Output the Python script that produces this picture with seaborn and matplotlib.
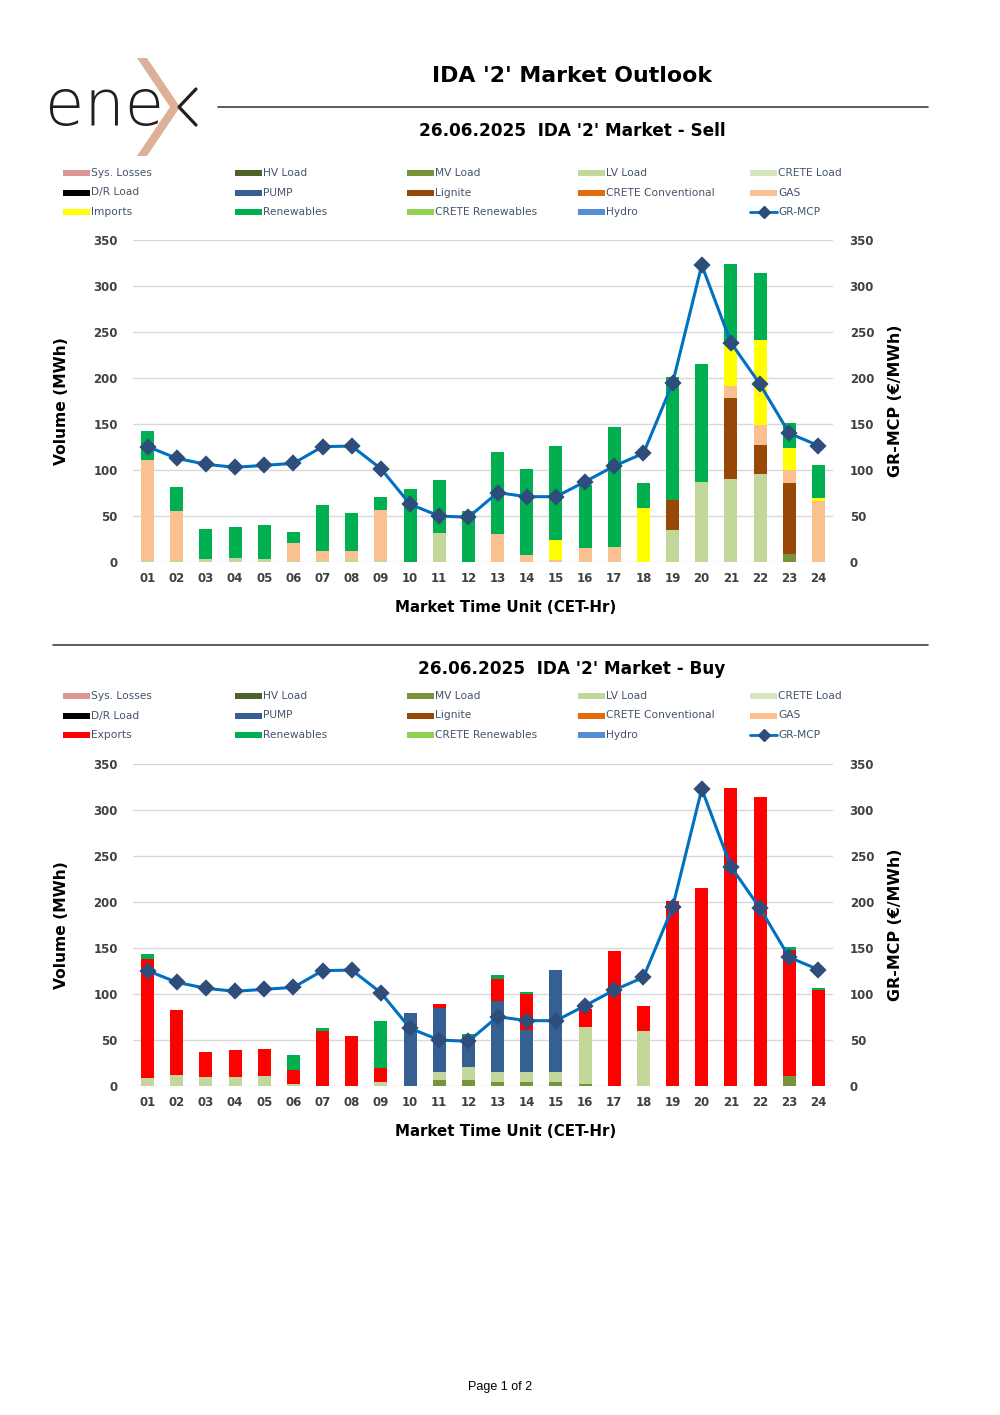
import numpy as np
import matplotlib
matplotlib.use("Agg")
import matplotlib.pyplot as plt
import seaborn as sns
from matplotlib.patches import Rectangle, Polygon
from matplotlib.lines import Line2D

# IDA '2' market outlook, 26.06.2025 - sell and buy side volumes (MWh) per hour
hours = ["01", "02", "03", "04", "05", "06", "07", "08", "09", "10", "11", "12",
         "13", "14", "15", "16", "17", "18", "19", "20", "21", "22", "23", "24"]

# GR-MCP price (EUR/MWh)
price = [125.4, 112.7, 106.2, 102.9, 105.1, 107.2, 125.4, 126.0, 101.4, 62.7, 50.0, 48.6,
         75.4, 71.0, 71.0, 87.3, 104.3, 118.1, 194.2, 322.8, 238.4, 193.1, 139.9, 126.5]

# Sell side
sell_mv = [0, 0, 0, 0, 0, 0, 0, 0, 0, 0, 0, 0,
           0, 0, 0, 0, 0, 0, 0, 0, 0, 0, 8.7, 0]
sell_lv = [2.0, 2.5, 3.3, 4.7, 3.6, 1.0, 1.5, 3.0, 2.2, 0, 31.2, 0,
           0, 0, 0, 0, 0, 0, 34.8, 87.3, 90.6, 95.7, 0, 0]
sell_lignite = [0, 0, 0, 0, 0, 0, 0, 0, 0, 0, 0, 0,
                0, 0, 0, 0, 0, 0, 32.6, 0, 87.7, 31.5, 77.5, 0]
sell_gas = [108.9, 53.3, 0, 0, 0, 19.3, 10.8, 9.0, 54.3, 0, 0, 0,
            30.1, 8.0, 2.2, 14.9, 16.0, 0, 0, 0, 13.4, 21.4, 13.8, 66.7]
sell_imports = [0, 0, 0, 0, 0, 0, 0, 0, 0, 0, 0, 0,
                0, 0, 22.1, 0, 0, 58.3, 0, 0, 46.7, 92.7, 24.3, 3.2]
sell_res = [31.8, 26.1, 32.6, 33.3, 36.3, 11.9, 49.7, 41.6, 13.8, 79.0, 57.8, 55.8,
            89.5, 93.0, 101.4, 68.4, 130.4, 27.9, 133.3, 127.6, 85.9, 72.7, 26.4, 35.5]

# Buy side
buy_mv = [0, 0, 0, 0, 0, 0, 0, 0, 0, 0, 6.9, 6.9,
          4.0, 4.0, 4.0, 2.5, 0, 0, 0, 0, 0, 0, 10.5, 0]
buy_lv = [9.0, 12.0, 9.4, 9.4, 10.5, 2.5, 0, 0, 4.0, 0, 8.7, 13.8,
          11.6, 11.2, 11.0, 62.0, 0, 59.4, 0, 0, 0, 0, 0, 0]
buy_pump = [0, 0, 0, 0, 0, 0, 0, 0, 0, 79.3, 69.5, 34.0,
            76.4, 45.3, 111.0, 0, 0, 0, 0, 0, 0, 0, 0, 0]
buy_exports = [128.7, 70.2, 27.2, 29.4, 29.7, 15.3, 59.8, 54.3, 15.6, 0, 4.4, 0,
               24.0, 39.5, 0, 19.2, 146.7, 27.2, 201.0, 215.2, 324.3, 314.5, 137.3, 104.7]
buy_res = [5.8, 0, 0, 0, 0, 15.5, 2.9, 0, 51.1, 0, 0, 1.5,
           4.3, 1.8, 0, 0, 0, 0, 0, 0, 0, 0, 3.2, 1.5]

colors = {
    "Sys. Losses": "#da9694", "HV Load": "#4f6228", "MV Load": "#77933c",
    "LV Load": "#c4d79b", "CRETE Load": "#d8e4bc", "D/R Load": "#000000",
    "PUMP": "#366092", "Lignite": "#974706", "CRETE Conventional": "#e26b0a",
    "GAS": "#fac090", "Imports": "#ffff00", "Exports": "#ff0000",
    "Renewables": "#00b050", "CRETE Renewables": "#92d050", "Hydro": "#558ed5",
}
LINE_C = "#0070c0"
MARK_C = "#2e4d7b"
TXT = "#404040"
LEG_TXT = "#44546a"
FONT = "DejaVu Sans"

W, H = 1000, 1415
fig = plt.figure(figsize=(W / 100, H / 100), dpi=100)


def fx(x):
    return x / W


def fy(y):
    return 1 - y / H


def stacked(ax, layers):
    # draw cumulative totals from the top down so the layers read as a stack
    cum = np.zeros(len(hours))
    tops = []
    for name, vals in layers:
        cum = cum + np.asarray(vals, dtype=float)
        tops.append((name, cum.copy()))
    for name, top in reversed(tops):
        sns.barplot(x=hours, y=top, color=colors[name], saturation=1,
                    width=0.45, linewidth=0, ax=ax)


def panel(y_top, y_bot, layers):
    ax = fig.add_axes([fx(133), fy(y_bot), fx(833) - fx(133), (y_bot - y_top) / H])
    ax.set_axisbelow(True)
    stacked(ax, layers)
    ax.set_ylim(0, 350)
    ax.set_yticks(range(0, 351, 50))
    ax.set_xlim(-0.5, 23.5)
    ax.yaxis.grid(True, color="#d9d9d9", linewidth=1)
    ax.xaxis.grid(False)
    for s in ax.spines.values():
        s.set_visible(False)
    ax.tick_params(axis="both", length=0, labelsize=8.5, labelcolor=TXT)
    ax.tick_params(axis="y", pad=11)
    ax.tick_params(axis="x", pad=7)
    for lab in ax.get_xticklabels() + ax.get_yticklabels():
        lab.set_fontweight("bold")
    ax.set_xlabel("")
    ax.set_ylabel("")

    ax2 = ax.twinx()
    sns.pointplot(x=hours, y=price, color=LINE_C, markers="D", linestyles="-",
                  errorbar=None, ax=ax2, linewidth=2.2, markersize=7)
    for ln in ax2.lines:
        ln.set_markerfacecolor(MARK_C)
        ln.set_markeredgecolor(MARK_C)
    ax2.set_ylim(0, 350)
    ax2.set_yticks(range(0, 351, 50))
    ax2.set_xlim(-0.5, 23.5)
    ax2.grid(False)
    for s in ax2.spines.values():
        s.set_visible(False)
    ax2.tick_params(axis="y", length=0, labelsize=8.5, labelcolor=TXT, pad=12)
    for lab in ax2.get_yticklabels():
        lab.set_fontweight("bold")
    ax2.set_ylabel("")
    ax2.set_xlabel("")

    yc = (y_top + y_bot) / 2
    fig.text(fx(61), fy(yc), "Volume (MWh)", rotation=90, ha="center", va="center",
             fontsize=11.2, fontweight="bold", color="black", family=FONT)
    fig.text(fx(895), fy(yc), "GR-MCP (€/MWh)", rotation=90, ha="center", va="center",
             fontsize=11.4, fontweight="bold", color="black", family=FONT)
    fig.text(fx(506), fy(y_bot + 45), "Market Time Unit (CET-Hr)", ha="center",
             va="center", fontsize=10.8, fontweight="bold", color="black", family=FONT)
    return ax


def legend(y0, trade):
    names = ["Sys. Losses", "HV Load", "MV Load", "LV Load", "CRETE Load",
             "D/R Load", "PUMP", "Lignite", "CRETE Conventional", "GAS",
             trade, "Renewables", "CRETE Renewables", "Hydro", "GR-MCP"]
    cols = [63, 235, 407, 578, 750]
    for i, name in enumerate(names):
        x = cols[i % 5]
        y = y0 + (i // 5) * 19.5
        if name == "GR-MCP":
            fig.add_artist(Line2D([fx(x), fx(x + 27)], [fy(y), fy(y)], color=LINE_C,
                                  linewidth=2, transform=fig.transFigure))
            fig.add_artist(Line2D([fx(x + 13.5)], [fy(y)], marker="D", markersize=6,
                                  color=MARK_C, transform=fig.transFigure))
        else:
            fig.add_artist(Rectangle((fx(x), fy(y + 3)), fx(27), 6 / H,
                                     facecolor=colors[name], edgecolor="none",
                                     transform=fig.transFigure))
        fig.text(fx(x + 28), fy(y), name, ha="left", va="center", fontsize=7.7,
                 color=LEG_TXT, family=FONT)


sns.set_style("white")
plt.rcParams["font.family"] = FONT

# logo
fig.text(fx(45), fy(125), "ene", ha="left", va="baseline", fontsize=46,
         color="#231f20", family=FONT, fontweight="light")
fig.add_artist(Polygon([(fx(137), fy(58)), (fx(147), fy(58)), (fx(180), fy(107)),
                        (fx(147), fy(156)), (fx(137), fy(156)), (fx(170), fy(107))],
                       closed=True, facecolor="#ddb198", edgecolor="none",
                       transform=fig.transFigure))
fig.add_artist(Line2D([fx(196), fx(179), fx(196)], [fy(89), fy(107), fy(125)],
                      color="#231f20", linewidth=2.3, transform=fig.transFigure))

fig.text(fx(572), fy(76), "IDA '2' Market Outlook", ha="center", va="center",
         fontsize=15.8, fontweight="bold", color="black", family=FONT)
fig.add_artist(Line2D([fx(218), fx(928)], [fy(107), fy(107)], color="#404040",
                      linewidth=1.2, transform=fig.transFigure))
fig.text(fx(572), fy(131), "26.06.2025  IDA '2' Market - Sell", ha="center",
         va="center", fontsize=12.2, fontweight="bold", color="black", family=FONT)
legend(173, "Imports")
panel(240, 562, [("MV Load", sell_mv), ("LV Load", sell_lv), ("Lignite", sell_lignite),
                 ("GAS", sell_gas), ("Imports", sell_imports), ("Renewables", sell_res)])

fig.add_artist(Line2D([fx(53), fx(928)], [fy(645), fy(645)], color="#404040",
                      linewidth=1.2, transform=fig.transFigure))
fig.text(fx(572), fy(669), "26.06.2025  IDA '2' Market - Buy", ha="center",
         va="center", fontsize=12.2, fontweight="bold", color="black", family=FONT)
legend(696, "Exports")
panel(764, 1086, [("MV Load", buy_mv), ("LV Load", buy_lv), ("PUMP", buy_pump),
                  ("Exports", buy_exports), ("Renewables", buy_res)])

fig.text(fx(500), fy(1387), "Page 1 of 2", ha="center", va="center", fontsize=9,
         color="black", family="Liberation Sans")

fig.savefig("out.png", dpi=100, facecolor="white")
